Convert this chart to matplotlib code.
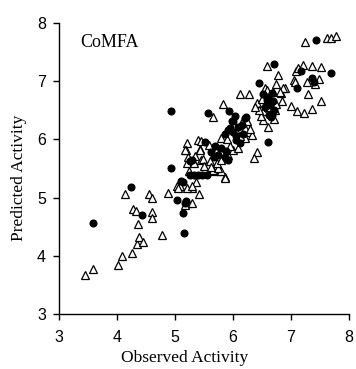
import matplotlib.pyplot as plt

# training set (open triangles) and test set (filled circles), observed vs predicted
train_obs = [3.45, 3.59, 4.02, 4.08, 4.25, 4.35, 4.38, 4.45, 4.37, 4.27, 4.33, 4.60, 4.60, 4.77,
             4.13, 4.55, 4.60, 4.88, 5.04, 5.09, 5.29, 5.42, 5.23, 5.29, 5.37, 5.17, 5.06, 5.20,
             5.29, 5.65, 5.86, 5.78, 5.86, 5.80, 5.66, 5.75, 5.72, 5.80, 5.92, 6.00, 5.20, 5.20,
             5.19, 5.22, 5.17, 5.40, 5.45, 5.43, 5.43, 5.45, 5.32, 5.49, 5.50, 5.80, 6.24, 6.27,
             6.33, 6.17, 6.21, 6.12, 6.20, 6.30, 5.83, 5.65, 6.12, 6.28, 6.41, 6.36, 6.60, 6.51,
             6.52, 6.41, 6.84, 6.69, 6.83, 6.90, 6.87, 6.81, 6.55, 6.58, 6.78, 6.60, 6.72, 6.48,
             6.70, 7.25, 7.63, 7.70, 7.78, 7.09, 7.21, 7.36, 7.52, 7.13, 7.05, 7.07, 7.28, 7.41,
             7.49, 7.30, 7.52, 7.00, 7.10, 7.23, 7.36,
             5.60, 5.70, 5.95, 6.05, 6.15, 6.25, 5.35, 5.58, 6.45, 6.62, 6.75, 6.50, 6.65, 5.90,
             6.08, 5.62, 5.25, 6.38, 6.58, 6.75]
train_pred = [3.67, 3.78, 3.85, 4.00, 4.05, 4.20, 4.33, 4.23, 4.54, 4.80, 4.77, 4.76, 4.65, 4.36,
              5.06, 5.06, 4.99, 5.07, 5.20, 5.19, 5.16, 5.06, 4.91, 4.90, 5.26, 4.87, 5.16, 5.16,
              5.20, 5.45, 5.35, 5.45, 5.33, 5.45, 5.47, 5.50, 5.59, 5.65, 5.73, 5.82, 5.59, 5.94,
              5.81, 5.70, 5.82, 5.98, 5.97, 5.83, 5.81, 5.65, 5.60, 5.66, 5.55, 6.02, 6.25, 6.13,
              6.08, 6.13, 6.02, 6.06, 6.20, 6.18, 6.60, 6.39, 6.77, 6.77, 5.79, 5.68, 6.22, 6.33,
              6.48, 6.63, 6.65, 6.82, 6.79, 6.88, 6.88, 6.82, 6.88, 7.26, 7.11, 6.55, 6.50, 6.40,
              6.35, 7.67, 7.74, 7.74, 7.78, 7.18, 7.28, 7.26, 7.24, 7.22, 7.02, 6.99, 6.99, 6.95,
              7.03, 6.77, 6.65, 6.57, 6.49, 6.45, 6.52,
              5.62, 5.80, 5.88, 6.15, 6.30, 6.32, 5.72, 5.90, 6.50, 6.72, 6.60, 6.70, 6.45, 6.00,
              5.85, 5.52, 5.45, 6.55, 6.85, 6.95]

test_obs = [3.59, 4.24, 4.43, 5.04, 5.19, 5.14, 5.16, 5.17, 5.14, 4.93, 4.93, 5.26, 5.33, 5.40,
            5.47, 5.55, 5.11, 5.26, 5.29, 5.52, 5.69, 5.80, 5.86, 5.75, 5.68, 5.92, 5.86, 5.92,
            6.00, 6.06, 6.12, 6.09, 6.15, 6.00, 6.21, 5.98, 6.22, 5.57, 5.94, 6.45, 6.71, 6.52,
            6.67, 6.58, 6.64, 6.55, 6.69, 6.62, 6.68, 6.66, 6.61, 7.10, 7.18, 7.36, 7.39, 7.70,
            7.43, 6.05, 5.95, 6.03, 6.18, 5.88, 6.60, 6.70, 5.62]
test_pred = [4.57, 5.18, 4.70, 4.96, 4.94, 4.74, 4.39, 4.91, 5.26, 5.51, 6.49, 5.39, 5.39, 5.39,
             5.38, 5.39, 5.28, 5.62, 5.65, 5.96, 5.88, 5.85, 5.70, 5.73, 5.70, 5.65, 6.10, 6.16,
             6.13, 5.99, 5.93, 6.22, 6.25, 6.31, 6.36, 6.31, 6.39, 6.45, 6.48, 6.96, 7.29, 6.77,
             6.79, 6.68, 6.59, 6.56, 6.65, 6.42, 6.42, 6.39, 5.96, 6.88, 7.17, 7.05, 6.99, 7.14,
             7.70, 6.05, 6.20, 6.40, 6.10, 5.80, 6.72, 6.50, 5.78]

x_ticks = [3, 4, 5, 6, 7, 8]
y_ticks = [3, 4, 5, 6, 7, 8]

fig = plt.figure(figsize=(3.56, 3.69), dpi=100)
ax = fig.add_axes([0.166, 0.149, 0.814, 0.789])

ax.plot(train_obs, train_pred, linestyle="none", marker="^", ms=6.4,
        mfc="white", mec="black", mew=0.9)
ax.plot(test_obs, test_pred, linestyle="none", marker="o", ms=4.8,
        mfc="black", mec="black")

ax.set_xlim(3, 8)
ax.set_ylim(3, 8)
ax.set_xticks(x_ticks)
ax.set_yticks(y_ticks)
for side in ("top", "right"):
    ax.spines[side].set_visible(False)
ax.spines["left"].set_linewidth(1.0)
ax.spines["bottom"].set_linewidth(1.0)
ax.tick_params(direction="out", length=4.5, width=1, labelsize=11.5)
ax.tick_params(axis="x", pad=7)
ax.tick_params(axis="y", pad=5)
for lab in ax.get_xticklabels() + ax.get_yticklabels():
    lab.set_family("Liberation Sans")

serif = "Liberation Serif"
ax.set_xlabel("Observed Activity", family=serif, fontsize=12.5)
ax.set_ylabel("Predicted Activity", family=serif, fontsize=12.5)
ax.xaxis.set_label_coords(0.434, -0.125)
ax.yaxis.set_label_coords(-0.112, 0.467)
ax.text(0.072, 0.962, "CoMFA", transform=ax.transAxes, family=serif, fontsize=13,
        ha="left", va="top")

fig.savefig("out.png", dpi=100)
